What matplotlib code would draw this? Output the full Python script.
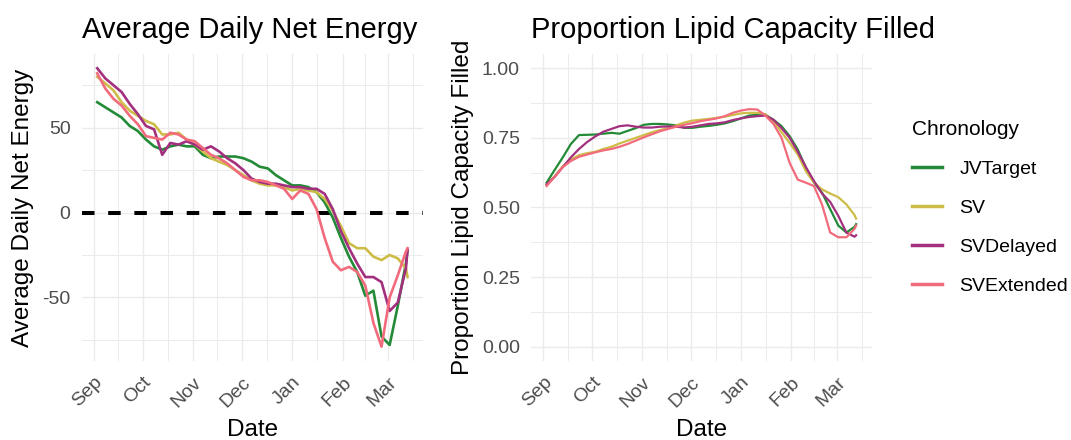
import matplotlib
matplotlib.use('Agg')
import matplotlib.pyplot as plt
import matplotlib.dates as mdates
import pandas as pd

plt.rcParams['font.family'] = ['Liberation Sans', 'DejaVu Sans']
plt.rcParams['axes.unicode_minus'] = False

days = [2, 7, 12, 17, 22, 27, 32, 37, 42, 47, 52, 57, 62, 67, 72, 77, 82, 87, 92, 97,
        102, 107, 112, 117, 122, 127, 132, 137, 142, 147, 152, 157, 162, 167, 172, 177,
        182, 187, 192, 193]

chronologies = ['JVTarget', 'SV', 'SVDelayed', 'SVExtended']
colors = ['#238A37', '#CDBD48', '#A3307F', '#F26B7C']

# Average daily net energy
jv_energy = [65, 62, 59, 56, 51, 48, 43, 39, 37, 39, 40, 39, 39, 34, 32, 33, 33, 33, 32, 30,
             27, 26, 22, 19, 16, 16, 15, 12, 6, -3, -15, -26, -35, -49, -46, -73,
             -78, -55, -30, -22]
sv_energy = [80, 76, 72, 65, 60, 57, 54, 52, 46, 46, 47, 43, 40, 36, 32, 30, 28, 25, 22, 19,
             17, 16, 16, 15, 13, 14, 13, 12, 8, 1, -8, -18, -21, -21, -26, -28,
             -25, -27, -33, -38]
delayed_energy = [85, 79, 75, 71, 64, 58, 51, 49, 34, 41, 40, 42, 40, 37, 39, 36, 32, 29, 25, 20,
                  18, 17, 17, 16, 15, 15, 14, 14, 11, 2, -11, -21, -30, -38, -38, -41,
                  -58, -53, -33, -22]
extended_energy = [82, 73, 67, 63, 57, 52, 45, 44, 43, 47, 46, 43, 42, 38, 34, 32, 29, 25, 21, 19,
                   19, 18, 16, 14, 8, 13, 11, 2, -15, -29, -34, -32, -35, -43, -65, -79,
                   -50, -37, -23, -21]

# Proportion of lipid capacity filled
jv_lipid = [.589, .635, .68, .728, .76, .761, .762, .765, .768, .765, .775, .785, .797, .80, .80,
            .798, .795, .786, .786, .79, .793, .797, .802, .81, .82, .83, .833, .833, .815, .792,
            .756, .708, .643, .589, .553, .494, .435, .41, .43, .44]
sv_lipid = [.58, .612, .648, .672, .688, .695, .70, .71, .718, .73, .74, .75, .76, .77, .778,
            .785, .795, .805, .812, .815, .818, .822, .826, .832, .838, .84, .84, .835, .81, .77,
            .732, .69, .63, .589, .565, .55, .537, .511, .473, .46]
delayed_lipid = [.583, .61, .645, .68, .71, .735, .755, .772, .782, .792, .795, .79, .787, .787, .79,
                 .791, .79, .787, .79, .795, .80, .802, .806, .814, .82, .825, .828, .83, .815, .785,
                 .75, .70, .645, .595, .55, .52, .47, .41, .395, .40]
extended_lipid = [.577, .61, .645, .667, .682, .69, .698, .705, .71, .718, .728, .74, .752, .763, .774,
                  .782, .79, .797, .803, .81, .815, .82, .828, .84, .848, .853, .852, .83, .80, .75,
                  .66, .60, .589, .577, .51, .41, .393, .393, .423, .435]

energy = [jv_energy, sv_energy, delayed_energy, extended_energy]
lipid = [jv_lipid, sv_lipid, delayed_lipid, extended_lipid]

start = pd.Timestamp('2021-09-01')
dates = start + pd.to_timedelta(days, unit='D')

grid_col = '#EBEBEB'
tick_col = '#4D4D4D'

fig = plt.figure(figsize=(10.71, 4.4), dpi=100)
ax1 = fig.add_axes([0.0763, 0.1805, 0.3187, 0.696])
ax2 = fig.add_axes([0.4959, 0.1805, 0.3179, 0.696])

month_starts = pd.date_range('2021-08-01', '2022-04-01', freq='MS')
mid_months = [a + (b - a) / 2 for a, b in zip(month_starts[:-1], month_starts[1:])]


def style_axis(ax):
    for s in ax.spines.values():
        s.set_visible(False)
    ax.set_xticks(month_starts[1:-1])
    ax.xaxis.set_major_formatter(mdates.DateFormatter('%b'))
    ax.set_xticks(mid_months, minor=True)
    ax.grid(True, which='major', color=grid_col, lw=1.0)
    ax.grid(True, which='minor', color=grid_col, lw=0.7)
    ax.set_axisbelow(True)
    ax.tick_params(which='both', length=0, labelsize=14, labelcolor=tick_col)
    ax.tick_params(axis='y', pad=8)
    ax.tick_params(axis='x', pad=9.5)
    for lab in ax.get_xticklabels():
        lab.set_rotation(45)
        lab.set_ha('right')
        lab.set_va('top')
        lab.set_rotation_mode('anchor')
    ax.set_xlabel('Date', fontsize=17.5)
    ax.xaxis.set_label_coords(0.5, -0.19)


# left panel
ax1.axhline(0, color='black', lw=2.9, dashes=(3.1, 3.4))
for vals, col in zip(energy, colors):
    ax1.plot(dates, vals, color=col, lw=1.9)
ax1.margins(x=0.05, y=0.05)
xlim = ax1.get_xlim()
ax1.set_yticks([-50, 0, 50])
ax1.set_yticks([-75, -25, 25, 75], minor=True)
style_axis(ax1)
ax1.set_xlim(xlim)
ax1.set_ylabel('Average Daily Net Energy', fontsize=17.5)
ax1.yaxis.set_label_coords(-0.14, 0.5)
ax1.set_title('Average Daily Net Energy', loc='left', fontsize=21, pad=12)

# right panel
handles = []
for vals, col, name in zip(lipid, colors, chronologies):
    h, = ax2.plot(dates, vals, color=col, lw=1.6, label=name)
    handles.append(h)
ax2.margins(x=0.05)
xlim = ax2.get_xlim()
ax2.set_ylim(-0.05, 1.05)
ax2.set_yticks([0, 0.25, 0.5, 0.75, 1.0])
ax2.set_yticklabels(['0.00', '0.25', '0.50', '0.75', '1.00'])
ax2.set_yticks([0.125, 0.375, 0.625, 0.875], minor=True)
style_axis(ax2)
ax2.set_xlim(xlim)
ax2.set_ylabel('Proportion Lipid Capacity Filled', fontsize=17.5)
ax2.yaxis.set_label_coords(-0.168, 0.5)
ax2.set_title('Proportion Lipid Capacity Filled', loc='left', fontsize=21, pad=12)

leg = fig.legend(handles=handles, title='Chronology', loc='upper left',
                 bbox_to_anchor=(902 / 1071, 1 - 110 / 440), frameon=False,
                 fontsize=14, title_fontsize=15, handlelength=1.55, handletextpad=0.9,
                 labelspacing=1.1, borderpad=0, alignment='left')
for line in leg.get_lines():
    line.set_linewidth(2.5)

fig.savefig('out.png', dpi=100)
